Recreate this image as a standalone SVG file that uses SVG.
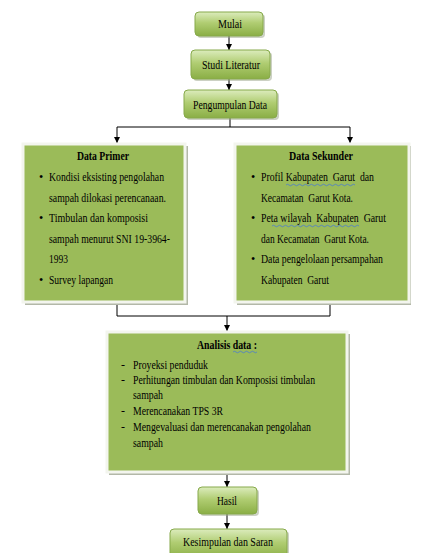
<svg xmlns="http://www.w3.org/2000/svg" width="424" height="553" viewBox="0 0 424 553">
<defs>
<linearGradient id="g" x1="0" y1="0" x2="0" y2="1">
<stop offset="0" stop-color="#dcecbd"/>
<stop offset="0.45" stop-color="#b0cd72"/>
<stop offset="1" stop-color="#8aae45"/>
</linearGradient>
<marker id="ar" viewBox="0 0 6 6" refX="6" refY="3" markerWidth="6" markerHeight="6" markerUnits="userSpaceOnUse" orient="auto">
<path d="M0,0 L6,3 L0,6 Z" fill="#000"/>
</marker>
</defs>
<style>
text{font-family:"Liberation Serif","Times New Roman",serif;fill:#000;font-size:12px}
.b{font-weight:bold}
.c{text-anchor:middle}
.sm{fill:url(#g);stroke:#86a94a;stroke-width:1}
.sh{fill:#9aa38a;opacity:0.5}
.big{fill:#9bbb59;stroke:#f3f5ee;stroke-width:3}
.bsh{fill:#b3b8a8}
.ln{fill:none;stroke:#000;stroke-width:1}
.sq{fill:none;stroke:#4a7bd0;stroke-width:0.8}
</style>
<rect width="424" height="553" fill="#fff"/>
<g id="connectors">
<path class="ln" d="M229,36 V50" marker-end="url(#ar)"/>
<path class="ln" d="M229,79 V90" marker-end="url(#ar)"/>
<path class="ln" d="M230,118 V127"/>
<path class="ln" d="M117,127 H350"/>
<path class="ln" d="M117,127 V143" marker-end="url(#ar)"/>
<path class="ln" d="M350,127 V143" marker-end="url(#ar)"/>
<path class="ln" d="M117,303 V316 H330 V304"/>
<path class="ln" d="M227,316 V331" marker-end="url(#ar)"/>
<path class="ln" d="M227,474 V487" marker-end="url(#ar)"/>
<path class="ln" d="M227,514 V529" marker-end="url(#ar)"/>
</g>
<g id="mulai">
<rect class="sh" x="197" y="14" width="68" height="24" rx="4"/>
<rect class="sm" x="195" y="12" width="68" height="24" rx="4"/>
<text class="c" x="230" y="28" textLength="24" lengthAdjust="spacingAndGlyphs">Mulai</text>
</g>
<g id="studi">
<rect class="sh" x="193" y="52" width="79" height="29" rx="4"/>
<rect class="sm" x="191" y="50" width="79" height="29" rx="4"/>
<text class="c" x="231" y="69" textLength="58" lengthAdjust="spacingAndGlyphs">Studi Literatur</text>
</g>
<g id="pengumpulan">
<rect class="sh" x="186" y="92" width="93" height="28" rx="4"/>
<rect class="sm" x="184" y="90" width="93" height="28" rx="4"/>
<text class="c" x="230" y="109" textLength="74" lengthAdjust="spacingAndGlyphs">Pengumpulan Data</text>
</g>
<g id="primer">
<rect class="bsh" x="25" y="146" width="163" height="159"/>
<rect class="big" x="23" y="144" width="162" height="158"/>
<text class="c b" x="103" y="160" textLength="52" lengthAdjust="spacingAndGlyphs">Data Primer</text>
<text x="39" y="181">•</text><text x="49" y="181" textLength="115" lengthAdjust="spacingAndGlyphs">Kondisi eksisting pengolahan</text>
<text x="49" y="202" textLength="117" lengthAdjust="spacingAndGlyphs">sampah dilokasi perencanaan.</text>
<text x="39" y="222">•</text><text x="49" y="222" textLength="99" lengthAdjust="spacingAndGlyphs">Timbulan dan komposisi</text>
<text x="49" y="243" textLength="121" lengthAdjust="spacingAndGlyphs">sampah menurut SNI 19-3964-</text>
<text x="49" y="263" textLength="19" lengthAdjust="spacingAndGlyphs">1993</text>
<text x="39" y="284">•</text><text x="49" y="284" textLength="64" lengthAdjust="spacingAndGlyphs">Survey lapangan</text>
</g>
<g id="sekunder">
<rect class="bsh" x="237" y="146" width="174" height="159"/>
<rect class="big" x="235" y="144" width="174" height="158"/>
<text class="c b" x="321" y="160" textLength="64" lengthAdjust="spacingAndGlyphs">Data Sekunder</text>
<text x="251" y="181">•</text><text x="261" y="181" textLength="113" lengthAdjust="spacingAndGlyphs" xml:space="preserve">Profil Kabupaten  Garut  dan</text>
<path class="sq" d="M286,185 q1.5,-1.5 3,0 t3,0 t3,0 t3,0 t3,0 t3,0 t3,0 t3,0 t3,0 t3,0 t3,0 t3,0 t3,0 t3,0 t3,0 t3,0 t3,0 t3,0 t3,0 t3,0 t3,0 t3,0 t3,0"/>
<text x="261" y="202" textLength="92" lengthAdjust="spacingAndGlyphs" xml:space="preserve">Kecamatan  Garut Kota.</text>
<text x="251" y="222">•</text><text x="261" y="222" textLength="125" lengthAdjust="spacingAndGlyphs" xml:space="preserve">Peta wilayah  Kabupaten  Garut</text>
<path class="sq" d="M272,226 q1.5,-1.5 3,0 t3,0 t3,0 t3,0 t3,0 t3,0 t3,0 t3,0 t3,0 t3,0 t3,0 t3,0 t3,0 t3,0 t3,0 t3,0 t3,0 t3,0 t3,0 t3,0 t3,0 t3,0 t3,0 t3,0 t3,0 t3,0 t3,0 t3,0 t3,0"/>
<text x="261" y="243" textLength="108" lengthAdjust="spacingAndGlyphs" xml:space="preserve">dan Kecamatan  Garut Kota.</text>
<text x="251" y="263">•</text><text x="261" y="263" textLength="122" lengthAdjust="spacingAndGlyphs">Data pengelolaan persampahan</text>
<text x="261" y="284" textLength="68" lengthAdjust="spacingAndGlyphs" xml:space="preserve">Kabupaten  Garut</text>
</g>
<g id="analisis">
<rect class="bsh" x="109" y="334" width="241" height="141"/>
<rect class="big" x="107" y="332" width="240" height="140"/>
<text class="c b" x="227" y="349" textLength="60" lengthAdjust="spacingAndGlyphs">Analisis data :</text>
<path class="sq" d="M233,352 q1.5,-1.5 3,0 t3,0 t3,0 t3,0 t3,0 t3,0 t3,0 t3,0"/>
<text x="121" y="369">-</text><text x="133" y="369" textLength="75" lengthAdjust="spacingAndGlyphs">Proyeksi penduduk</text>
<text x="121" y="384">-</text><text x="133" y="384" textLength="182" lengthAdjust="spacingAndGlyphs">Perhitungan timbulan dan Komposisi timbulan</text>
<text x="133" y="399" textLength="30" lengthAdjust="spacingAndGlyphs">sampah</text>
<text x="121" y="415">-</text><text x="133" y="415" textLength="90" lengthAdjust="spacingAndGlyphs">Merencanakan TPS 3R</text>
<text x="121" y="431">-</text><text x="133" y="431" textLength="178" lengthAdjust="spacingAndGlyphs">Mengevaluasi dan merencanakan pengolahan</text>
<text x="133" y="447" textLength="30" lengthAdjust="spacingAndGlyphs">sampah</text>
</g>
<g id="hasil">
<rect class="sh" x="200" y="489" width="59" height="27" rx="4"/>
<rect class="sm" x="198" y="487" width="59" height="27" rx="4"/>
<text class="c" x="227" y="505" textLength="20" lengthAdjust="spacingAndGlyphs">Hasil</text>
</g>
<g id="kesimpulan">
<rect class="sh" x="172" y="531" width="117" height="30" rx="4"/>
<rect class="sm" x="170" y="529" width="117" height="30" rx="4"/>
<text class="c" x="228" y="546" textLength="90" lengthAdjust="spacingAndGlyphs">Kesimpulan dan Saran</text>
</g>
</svg>
